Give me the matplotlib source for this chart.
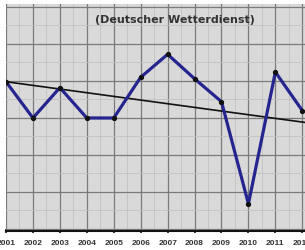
import matplotlib
matplotlib.use("Agg")
import matplotlib.pyplot as plt
from matplotlib.ticker import MultipleLocator

# yearly values (Deutscher Wetterdienst)
years = [2001, 2002, 2003, 2004, 2005, 2006, 2007, 2008, 2009, 2010, 2011, 2012]
values = [9.49, 9.0, 9.41, 9.0, 9.0, 9.55, 9.86, 9.53, 9.22, 7.84, 9.62, 9.1]

# trend line as drawn, start and end
trend_years = [2001, 2012.1]
trend_values = [9.49, 8.94]

title = "(Deutscher Wetterdienst)"

fig = plt.figure(figsize=(3.05, 2.51), dpi=100)
ax = fig.add_axes([6 / 305, 19 / 251, 299 / 305, 227 / 251])
ax.set_facecolor("#d9d9d9")

ax.plot(years, values, color="#25258f", lw=2.3, solid_joinstyle="round", zorder=3)
ax.plot(years, values, "o", color="#111111", ms=2.8, zorder=4)
ax.plot(trend_years, trend_values, color="#111111", lw=1.2, zorder=2)

ax.set_xlim(2001, 2012.1)
ax.set_ylim(7.473, 10.54)

ax.xaxis.set_major_locator(MultipleLocator(1))
ax.xaxis.set_minor_locator(MultipleLocator(0.5))
ax.yaxis.set_major_locator(MultipleLocator(0.5))
ax.yaxis.set_minor_locator(MultipleLocator(0.25))
ax.grid(which="major", color="#7a7a7a", lw=0.9)
ax.grid(which="minor", color="#c2c2c2", lw=0.6)
ax.set_axisbelow(True)

for s in ["top", "right", "left"]:
    ax.spines[s].set_visible(False)
ax.spines["bottom"].set_color("#111111")
ax.spines["bottom"].set_linewidth(1.5)

ax.tick_params(axis="y", which="both", left=False, labelleft=False)
ax.tick_params(axis="x", which="minor", bottom=False)
ax.tick_params(axis="x", which="major", direction="inout", length=3, width=1.2,
               color="#111111", pad=4, labelsize=6, labelcolor="#333333")
ax.set_xticks(list(range(2001, 2013)))
ax.set_xticklabels([str(y) for y in range(2001, 2013)], fontfamily="Liberation Sans",
                   fontweight="bold")

ax.text(0.565, 0.935, title, transform=ax.transAxes, ha="center", va="center",
        fontsize=8, fontweight="bold", color="#333333", fontfamily="DejaVu Sans")

fig.savefig("out.png", dpi=100)
